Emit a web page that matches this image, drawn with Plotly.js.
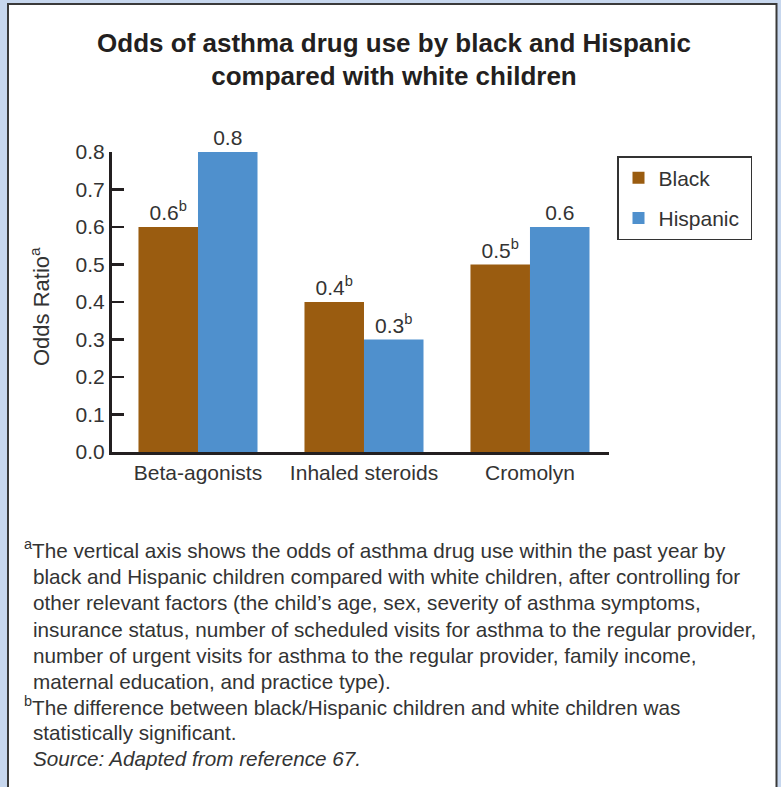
<!DOCTYPE html>
<html>
<head>
<meta charset="utf-8">
<script src="https://cdn.plot.ly/plotly-3.0.1.min.js"></script>
<style>html,body{margin:0;padding:0;background:#c7d7ee;}#chart{width:781px;height:787px;}</style>
</head>
<body>
<div id="chart"></div>
<script>
const categories = ['Beta-agonists', 'Inhaled steroids', 'Cromolyn'];
const seriesNames = ['Black', 'Hispanic'];
const blackValues = [0.6, 0.4, 0.5];
const hispanicValues = [0.8, 0.3, 0.6];
const blackLabels = ['0.6<sup>b</sup>', '0.4<sup>b</sup>', '0.5<sup>b</sup>'];
const hispanicLabels = ['0.8', '0.3<sup>b</sup>', '0.6'];
const yTickValues = [0, 0.1, 0.2, 0.3, 0.4, 0.5, 0.6, 0.7, 0.8];
const footnoteLines = [
  '<sup>a</sup>The vertical axis shows the odds of asthma drug use within the past year by',
  'black and Hispanic children compared with white children, after controlling for',
  'other relevant factors (the child\u2019s age, sex, severity of asthma symptoms,',
  'insurance status, number of scheduled visits for asthma to the regular provider,',
  'number of urgent visits for asthma to the regular provider, family income,',
  'maternal education, and practice type).',
  '<sup>b</sup>The difference between black/Hispanic children and white children was',
  'statistically significant.',
  '<i>Source: Adapted from reference 67.</i>'
];

const FONT = 'Liberation Sans, Arial, Helvetica, sans-serif';
const TXT = '#333333';
const FS = 21;
const FOOT_FS = 20.7;
// pixel helpers (plot area: x 112..609, y 152..452)
const L = 112, R = 609, T = 152, B = 452;
const px = v => (v - L) / (R - L);
const py = v => (B - v) / (B - T);

const traces = [
  {
    type: 'bar', name: seriesNames[0], x: categories, y: blackValues,
    text: blackLabels, textposition: 'outside', cliponaxis: false,
    textfont: {family: FONT, size: FS, color: TXT},
    marker: {color: '#9a5c10'}, legendgroup: 'g1', hoverinfo: 'x+y'
  },
  {
    type: 'bar', name: seriesNames[1] + '\u00a0', x: categories, y: hispanicValues,
    text: hispanicLabels, textposition: 'outside', cliponaxis: false,
    textfont: {family: FONT, size: FS, color: TXT},
    marker: {color: '#4f90cd'}, legendgroup: 'g2', hoverinfo: 'x+y'
  }
];

const footStarts = [22, 31, 31, 31, 31, 31, 22, 31, 31];
const footY = [549, 576, 602, 629, 655, 681, 706, 732, 758];
const annotations = footnoteLines.map((t, i) => ({
  text: t, xref: 'paper', yref: 'paper', x: px(footStarts[i]), y: py(footY[i]),
  xanchor: 'left', yanchor: 'middle', showarrow: false, align: 'left',
  font: {family: FONT, size: FOOT_FS, color: TXT}
}));
annotations.push({
  text: 'Odds Ratio<sup>a</sup>', textangle: -90, xref: 'paper', yref: 'paper',
  x: px(40), y: py(307), xanchor: 'center', yanchor: 'middle', showarrow: false,
  font: {family: FONT, size: 22, color: TXT}
});

const shapes = [
  {type: 'rect', xref: 'paper', yref: 'paper', layer: 'below',
   x0: px(8), x1: px(776.5), y0: py(800), y1: py(4),
   fillcolor: '#ffffff', line: {color: '#3a3a3a', width: 2}}
];

const layout = {
  width: 781, height: 787,
  margin: {l: L, r: 781 - R, t: T, b: 787 - B, pad: 0},
  paper_bgcolor: '#c7d7ee', plot_bgcolor: 'rgba(0,0,0,0)',
  font: {family: FONT, size: FS, color: TXT},
  title: {
    text: 'Odds of asthma drug use by black and Hispanic<br>compared with white children',
    font: {family: FONT, size: 26, color: '#231f20', weight: 'bold'},
    xref: 'container', x: 394 / 781, xanchor: 'center',
    yref: 'container', y: 1 - 51.5 / 787, yanchor: 'middle'
  },
  barmode: 'group', bargap: 0.283, bargroupgap: 0,
  xaxis: {
    type: 'category', range: [-0.518, 2.476], showline: true, linewidth: 3,
    linecolor: '#231f20', ticks: '', showgrid: false, zeroline: false,
    tickfont: {family: FONT, size: FS, color: TXT}, fixedrange: true
  },
  yaxis: {
    range: [0, 0.8], tickvals: yTickValues, tickformat: '.1f', showline: true,
    linewidth: 3, linecolor: '#231f20', ticks: 'inside', ticklen: 12, tickwidth: 2.5,
    tickcolor: '#231f20', showgrid: false, zeroline: false,
    tickfont: {family: FONT, size: FS, color: TXT}, fixedrange: true
  },
  showlegend: true,
  legend: {
    x: px(617), y: py(156), xanchor: 'left', yanchor: 'top',
    bordercolor: '#333333', borderwidth: 1.5, bgcolor: '#ffffff',
    font: {family: FONT, size: FS, color: TXT}, traceorder: 'grouped', tracegroupgap: 10
  },
  annotations: annotations,
  shapes: shapes
};

Plotly.newPlot('chart', traces, layout, {displayModeBar: false, staticPlot: true});
</script>
</body>
</html>
